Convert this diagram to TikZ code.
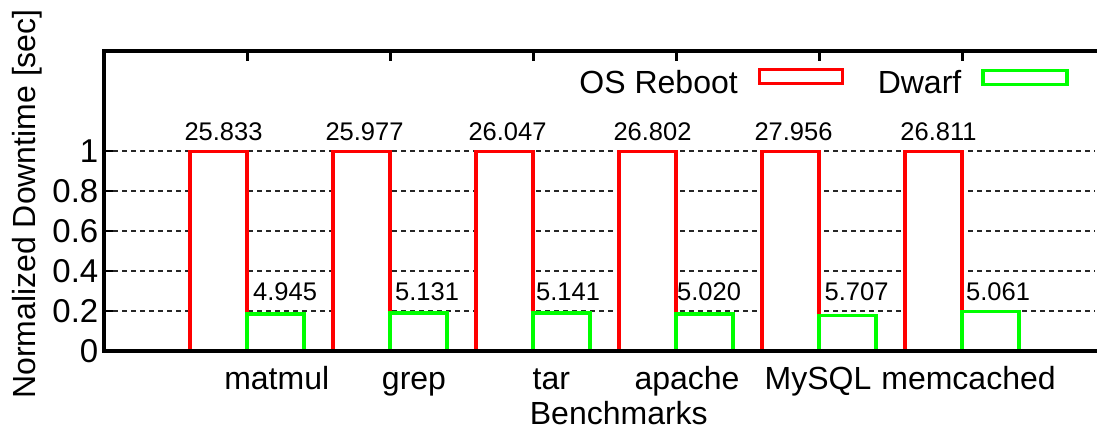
\documentclass[tikz,border=0pt]{standalone}
\usepackage{fontspec}
\setmainfont{Liberation Sans}
\begin{document}
\begin{tikzpicture}[x=1pt,y=-1pt,
  grid/.style={dash pattern=on 5pt off 4pt, line width=1.1pt, black!85},
  redbar/.style={draw=red, fill=white, line width=3.5pt, line join=miter},
  greenbar/.style={draw=green, fill=white, line width=3.5pt, line join=miter},
  axisline/.style={line width=3.8pt, line join=miter},
  tickmark/.style={line width=3pt},
  big/.style={inner sep=0pt, font=\fontsize{32}{36}\selectfont},
  ticklbl/.style={inner sep=0pt, font=\fontsize{33}{36}\selectfont, anchor=east},
  val/.style={inner sep=0pt, font=\fontsize{25.5}{28}\selectfont}]
\useasboundingbox (0,0) rectangle (1097,430);

% grid lines
\foreach \y in {311,271,231,191,151}
  \draw[grid] (113,\y) -- (1095,\y);

% bars
\foreach \i/\g [evaluate=\i as \xa using 190+143*\i,
                evaluate=\i as \xb using 247+143*\i,
                evaluate=\i as \xc using 304+143*\i] in
   {0/314,1/313,2/313,3/314,4/315.5,5/311.5} {
  \draw[redbar] (\xa,351) rectangle (\xb,151.5);
  \draw[greenbar] (\xb,351) rectangle (\xc,\g);
}

% axes
\draw[axisline] (1097,51) -- (104,51) -- (104,351) -- (1097,351);
\foreach \y in {311,271,231,191,151}
  \draw[line width=2pt] (104,\y) -- (113,\y);
\foreach \i [evaluate=\i as \xt using 247+143*\i] in {0,...,5}
  \draw[tickmark] (\xt,51) -- (\xt,61);

% tick labels
\node[ticklbl] (t0) at (98.5,351) {0};
\node[ticklbl] (t1) at (98.5,311) {0.2};
\node[ticklbl] (t2) at (98.5,271) {0.4};
\node[ticklbl] (t3) at (98.5,231) {0.6};
\node[ticklbl] (t4) at (98.5,191) {0.8};
\node[ticklbl] (t5) at (98.5,151) {1};

% value labels (OS Reboot)
\node[val, anchor=base] (r0) at (223.5,140.5) {25.833};
\node[val, anchor=base] (r1) at (364.5,140.5) {25.977};
\node[val, anchor=base] (r2) at (507.5,140.5) {26.047};
\node[val, anchor=base] (r3) at (652.5,140.5) {26.802};
\node[val, anchor=base] (r4) at (793.5,140.5) {27.956};
\node[val, anchor=base] (r5) at (938.5,140.5) {26.811};

% value labels (Dwarf)
\node[val, anchor=base west] (g0) at (253,301) {4.945};
\node[val, anchor=base west] (g1) at (395,301) {5.131};
\node[val, anchor=base west] (g2) at (536,301) {5.141};
\node[val, anchor=base west] (g3) at (677,301) {5.020};
\node[val, anchor=base west] (g4) at (824.5,301) {5.707};
\node[val, anchor=base west] (g5) at (966,301) {5.061};

% category labels
\node[big, anchor=base] (c0) at (276.7,389) {matmul};
\node[big, anchor=base] (c1) at (414,389) {grep};
\node[big, anchor=base] (c2) at (551.3,389) {tar};
\node[big, anchor=base] (c3) at (687,389) {apache};
\node[big, anchor=base] (c4) at (818,389) {MySQL};
\node[big, anchor=base] (c5) at (968.5,389) {memcached};

% axis titles
\node[big, anchor=base] (xlabel) at (618.8,424.5) {Benchmarks};
\node[big, anchor=base, rotate=90] (ylabel) at (35.5,204) {Normalized Downtime [sec]};

% legend
\node[big, anchor=base east] (l1) at (738,93.5) {OS Reboot};
\draw[draw=red, line width=3pt] (759,70) rectangle (842.5,83.5);
\node[big, anchor=base east] (l2) at (961.5,93.5) {Dwarf};
\draw[draw=green, line width=3.5pt] (983,70.5) rectangle (1067,84.3);
\end{tikzpicture}
\end{document}
